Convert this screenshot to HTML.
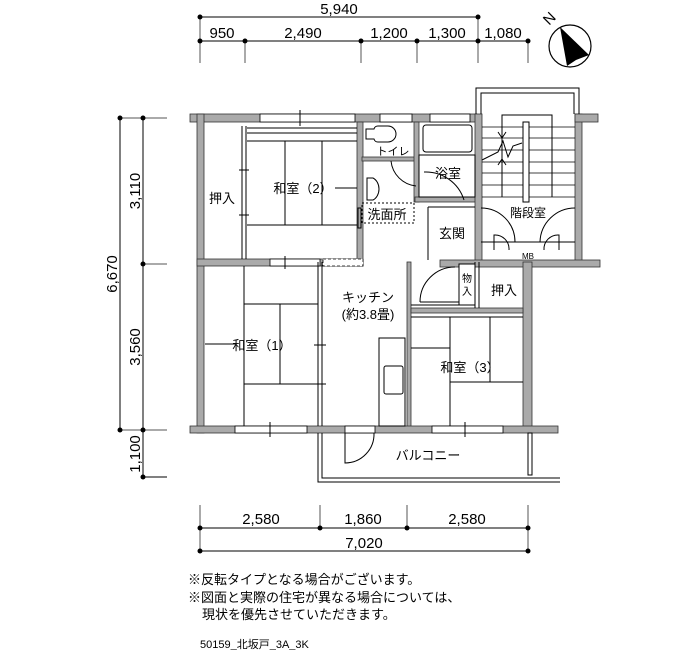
<!DOCTYPE html>
<html><head><meta charset="utf-8"><style>
html,body{margin:0;padding:0;background:#fff}
svg{display:block}
text{font-family:"Liberation Sans","Noto Sans CJK JP",sans-serif;fill:#000}
</style></head><body>
<svg width="700" height="650" viewBox="0 0 700 650" xmlns="http://www.w3.org/2000/svg">
<g stroke="#000" stroke-width="1" fill="none">
<line x1="200" y1="17" x2="478" y2="17"/>
<line x1="200" y1="41" x2="528" y2="41"/>
<line x1="200" y1="17" x2="200" y2="63" stroke="#555"/>
<line x1="245" y1="41" x2="245" y2="63" stroke="#555"/>
<line x1="361" y1="41" x2="361" y2="63" stroke="#555"/>
<line x1="417" y1="41" x2="417" y2="63" stroke="#555"/>
<line x1="478" y1="17" x2="478" y2="63" stroke="#555"/>
<line x1="528" y1="41" x2="528" y2="63" stroke="#555"/>
<line x1="120" y1="118" x2="120" y2="430"/>
<line x1="143" y1="118" x2="143" y2="477"/>
<line x1="120" y1="118" x2="167" y2="118" stroke="#555"/>
<line x1="143" y1="264" x2="167" y2="264" stroke="#555"/>
<line x1="120" y1="430" x2="167" y2="430" stroke="#555"/>
<line x1="143" y1="477" x2="167" y2="477"/>
<line x1="200" y1="528" x2="528" y2="528"/>
<line x1="200" y1="551" x2="528" y2="551"/>
<line x1="200" y1="505" x2="200" y2="551" stroke="#555"/>
<line x1="320" y1="505" x2="320" y2="528" stroke="#555"/>
<line x1="407" y1="505" x2="407" y2="528" stroke="#555"/>
<line x1="528" y1="505" x2="528" y2="551" stroke="#555"/>
</g>
<g fill="#000">
<circle cx="200" cy="17" r="2.5"/><circle cx="478" cy="17" r="2.5"/>
<circle cx="200" cy="41" r="2.5"/><circle cx="245" cy="41" r="2.5"/><circle cx="361" cy="41" r="2.5"/><circle cx="417" cy="41" r="2.5"/><circle cx="478" cy="41" r="2.5"/><circle cx="528" cy="41" r="2.5"/>
<circle cx="120" cy="118" r="2.5"/><circle cx="143" cy="118" r="2.5"/><circle cx="143" cy="264" r="2.5"/><circle cx="120" cy="430" r="2.5"/><circle cx="143" cy="430" r="2.5"/><circle cx="143" cy="477" r="2.5"/>
<circle cx="200" cy="528" r="2.5"/><circle cx="320" cy="528" r="2.5"/><circle cx="407" cy="528" r="2.5"/><circle cx="528" cy="528" r="2.5"/>
<circle cx="200" cy="551" r="2.5"/><circle cx="528" cy="551" r="2.5"/>
</g>
<g font-size="15">
<text x="339" y="14" text-anchor="middle">5,940</text>
<text x="222" y="38" text-anchor="middle">950</text>
<text x="303" y="38" text-anchor="middle">2,490</text>
<text x="389" y="38" text-anchor="middle">1,200</text>
<text x="447" y="38" text-anchor="middle">1,300</text>
<text x="503" y="38" text-anchor="middle">1,080</text>
<text x="261" y="524" text-anchor="middle">2,580</text>
<text x="363" y="524" text-anchor="middle">1,860</text>
<text x="467" y="524" text-anchor="middle">2,580</text>
<text x="364" y="548" text-anchor="middle">7,020</text>
<text transform="translate(117,274) rotate(-90)" text-anchor="middle">6,670</text>
<text transform="translate(140,191) rotate(-90)" text-anchor="middle">3,110</text>
<text transform="translate(140,347) rotate(-90)" text-anchor="middle">3,560</text>
<text transform="translate(140,454) rotate(-90)" text-anchor="middle">1,100</text>
</g>
<circle cx="570" cy="46" r="21" fill="#fff" stroke="#000" stroke-width="1.2"/>
<polygon points="560,27 589,55 576,60 567,66" fill="#000"/>
<text transform="translate(553,22) rotate(-45)" font-size="15" text-anchor="middle">N</text>

<g fill="#aaa" stroke="#333" stroke-width="0.8">
<rect x="190" y="114" width="287" height="8"/>
<rect x="197" y="114" width="7" height="319"/>
<rect x="197" y="259" width="166" height="7"/>
<rect x="357" y="122" width="6" height="144"/>
<rect x="362" y="157" width="53" height="4"/>
<rect x="414" y="122" width="5" height="80"/>
<rect x="415" y="197" width="62" height="5"/>
<rect x="475" y="114" width="7" height="152"/>
<rect x="575" y="114" width="7" height="152"/>
<rect x="575" y="114" width="23" height="8"/>
<rect x="440" y="260" width="160" height="7"/>
<rect x="407" y="262" width="4" height="168"/>
<rect x="523" y="262" width="9" height="168"/>
<rect x="411" y="308" width="112" height="5"/>
<rect x="190" y="426" width="368" height="7"/>
</g>
<g fill="#fff" stroke="#000" stroke-width="0.8">
<rect x="260" y="114" width="95" height="8"/>
<rect x="380" y="114" width="32" height="8"/>
<rect x="430" y="114" width="40" height="8"/>
<rect x="235" y="426" width="72" height="7"/>
<rect x="432" y="426" width="71" height="7"/>
<rect x="345" y="426" width="30" height="7"/>
<rect x="270" y="259" width="50" height="7"/>
<rect x="323" y="259" width="40" height="7" stroke-dasharray="3,2"/>
</g>
<g stroke="#000" stroke-width="1" fill="none">
<line x1="300" y1="110" x2="300" y2="126"/><line x1="270" y1="422" x2="270" y2="437"/><line x1="465" y1="422" x2="465" y2="437"/><line x1="285" y1="256" x2="285" y2="269"/>
<!-- kitchen thin wall -->
<line x1="318" y1="262" x2="318" y2="426"/><line x1="322" y1="262" x2="322" y2="426"/>
<line x1="475" y1="262" x2="475" y2="308"/><line x1="479" y1="262" x2="479" y2="308"/>
<!-- stair outer double -->
<polyline points="476,114 476,88 579,88 579,114"/>
<polyline points="481,114 481,93 574,93 574,114"/>
<line x1="242" y1="126" x2="242" y2="259"/><line x1="246" y1="126" x2="246" y2="259"/>
<line x1="247" y1="128" x2="357" y2="128"/><line x1="247" y1="133" x2="357" y2="133"/><line x1="247" y1="141" x2="357" y2="141"/>
<line x1="285" y1="141" x2="285" y2="225"/><line x1="322" y1="141" x2="322" y2="225"/>
<line x1="247" y1="225" x2="357" y2="225"/>
<line x1="335" y1="188" x2="357" y2="188"/>
<line x1="239" y1="170" x2="249" y2="170"/><line x1="239" y1="215" x2="249" y2="215"/>
<path d="M366,129 h8 a4,4 0 0 1 4,-3 h10 a8,8 0 0 1 0,16 h-10 a4,4 0 0 1 -4,-3 h-8 z"/>
<rect x="423" y="125" width="49" height="27" rx="3"/>
<line x1="419" y1="155" x2="475" y2="155"/>
<rect x="419" y="155" width="56" height="42"/>
<path d="M391,161 a28,28 0 0 0 25,25"/>
<path d="M424,172 a40,40 0 0 1 40,28"/>
<path d="M367,178 h6 a10,12 0 0 1 0,22 h-6 z"/>
<rect x="358" y="208" width="3" height="20"/>
<rect x="362" y="203" width="52" height="20" stroke-dasharray="2,2"/>
<line x1="428" y1="207" x2="428" y2="260"/>
<line x1="428" y1="207" x2="475" y2="207"/>
<g stroke-width="0.8">
<line x1="482" y1="127" x2="575" y2="127"/><line x1="482" y1="138" x2="575" y2="138"/><line x1="482" y1="150" x2="575" y2="150"/><line x1="482" y1="162" x2="575" y2="162"/><line x1="482" y1="173" x2="575" y2="173"/><line x1="482" y1="185" x2="575" y2="185"/><line x1="482" y1="197" x2="575" y2="197"/>
</g>
<rect x="523" y="122" width="6" height="80" fill="#fff"/>
<polyline points="502,197 502,115 552,115 552,197"/>
<polyline points="482,160 498,152 503,141 508,157 513,146 522,143"/>
<path d="M498,132 l4,6 l4,-6"/><path d="M498,165 l4,-6 l4,6"/>
<path d="M481,208 a34,34 0 0 1 34,34"/>
<path d="M575,208 a35,35 0 0 0 -35,34"/>
<line x1="481" y1="242" x2="575" y2="242"/>
<path d="M494,250 v-15 a14,14 0 0 1 15,15"/>
<path d="M559,250 v-15 a14,14 0 0 0 -15,15"/>
<path d="M420,302 a35,35 0 0 1 35,-35"/>
<line x1="420" y1="302" x2="459" y2="302"/>
<rect x="459" y="264" width="16" height="41" fill="#fff"/>
<line x1="411" y1="305" x2="475" y2="305"/>
<line x1="244" y1="266" x2="244" y2="426"/>
<line x1="244" y1="304" x2="318" y2="304"/><line x1="244" y1="384" x2="318" y2="384"/>
<line x1="280" y1="304" x2="280" y2="384"/>
<line x1="205" y1="344" x2="235" y2="344"/>
<line x1="314" y1="345" x2="326" y2="345"/><line x1="314" y1="384" x2="326" y2="384"/>
<rect x="379" y="338" width="26" height="88"/>
<rect x="384" y="366" width="19" height="28" rx="2"/>
<line x1="411" y1="317" x2="523" y2="317"/>
<line x1="450" y1="317" x2="450" y2="426"/>
<line x1="411" y1="348" x2="450" y2="348"/>
<line x1="490" y1="317" x2="490" y2="382"/>
<line x1="450" y1="382" x2="523" y2="382"/>
<polyline points="318,433 318,482 560,482"/>
<polyline points="322,433 322,478 560,478"/>
<rect x="528" y="433" width="4" height="42"/>
<path d="M345,433 v30 a29,29 0 0 0 29,-30"/>
</g>
<g font-size="13">
<text x="222" y="203" text-anchor="middle">押入</text>
<text x="303" y="193" text-anchor="middle">和室（2）</text>
<text x="393" y="155" text-anchor="middle" font-size="11">トイレ</text>
<text x="448" y="178" text-anchor="middle">浴室</text>
<text x="387" y="219" text-anchor="middle">洗面所</text>
<text x="452" y="238" text-anchor="middle">玄関</text>
<text x="528" y="217" text-anchor="middle" font-size="12">階段室</text>
<text x="528" y="259" text-anchor="middle" font-size="8">MB</text>
<text x="467" y="282" text-anchor="middle" font-size="10">物</text>
<text x="467" y="295" text-anchor="middle" font-size="10">入</text>
<text x="504" y="295" text-anchor="middle">押入</text>
<text x="368" y="302" text-anchor="middle">キッチン</text>
<text x="368" y="319" text-anchor="middle">(約3.8畳)</text>
<text x="262" y="350" text-anchor="middle">和室（1）</text>
<text x="470" y="372" text-anchor="middle">和室（3）</text>
<text x="428" y="460" text-anchor="middle">バルコニー</text>
<text x="188" y="584">※反転タイプとなる場合がございます。</text>
<text x="188" y="602">※図面と実際の住宅が異なる場合については、</text>
<text x="202" y="619">現状を優先させていただきます。</text>
<text x="200" y="648" font-size="11">50159_北坂戸_3A_3K</text>
</g>
</svg>
</body></html>
